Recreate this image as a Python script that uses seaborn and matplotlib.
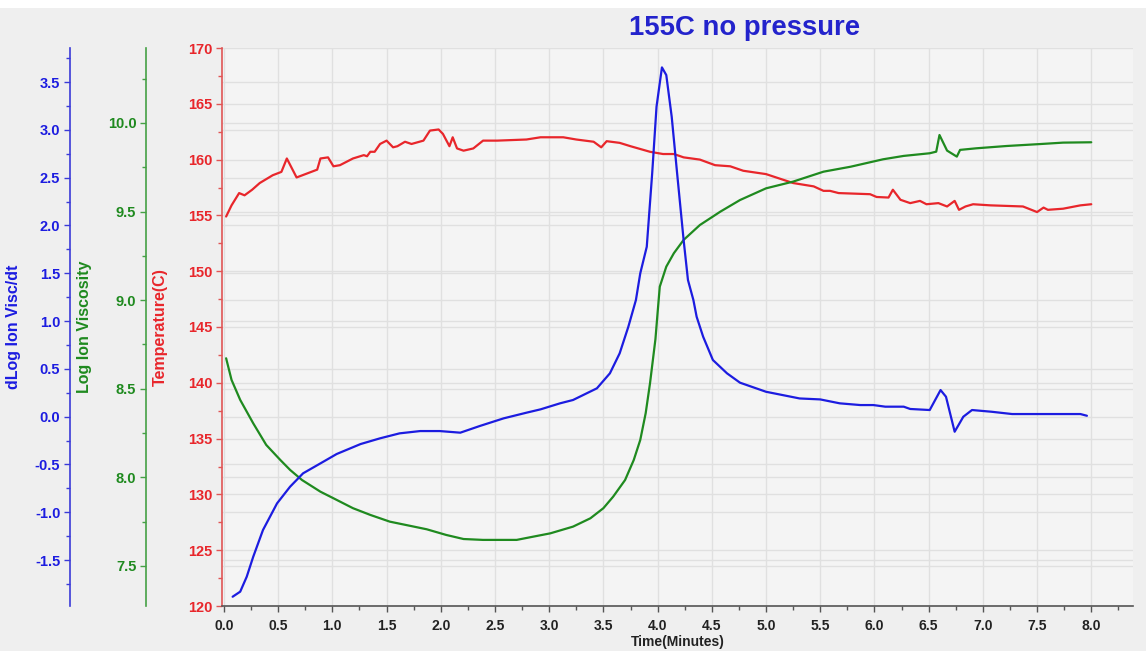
import numpy as np
import pandas as pd
import matplotlib
matplotlib.use("Agg")
import matplotlib.pyplot as plt
from matplotlib.ticker import MultipleLocator, FormatStrFormatter
from matplotlib.transforms import blended_transform_factory
from matplotlib.patches import Rectangle
import seaborn as sns

# temperature (red, right-most of the three left axes)
temp_time = [0.02, 0.07, 0.14, 0.19, 0.26, 0.33, 0.45, 0.53, 0.58, 0.67, 0.86, 0.89, 0.96, 1.01,
             1.07, 1.19, 1.29, 1.32, 1.35, 1.39, 1.44, 1.50, 1.56, 1.60, 1.67, 1.73, 1.84, 1.90,
             1.98, 2.02, 2.08, 2.11, 2.15, 2.21, 2.30, 2.39, 2.52, 2.79, 2.92, 3.13, 3.25, 3.41,
             3.48, 3.53, 3.65, 3.75, 3.93, 4.05, 4.15, 4.24, 4.39, 4.53, 4.67, 4.79, 5.00, 5.25,
             5.44, 5.53, 5.59, 5.67, 5.96, 6.02, 6.13, 6.17, 6.24, 6.33, 6.42, 6.48, 6.59, 6.67,
             6.74, 6.78, 6.84, 6.91, 7.07, 7.37, 7.50, 7.56, 7.60, 7.74, 7.90, 8.00]
temp_vals = [154.9, 155.9, 157.0, 156.8, 157.3, 157.9, 158.6, 158.9, 160.1, 158.4, 159.1, 160.1, 160.2, 159.4,
             159.5, 160.1, 160.4, 160.3, 160.7, 160.7, 161.4, 161.7, 161.1, 161.2, 161.6, 161.4, 161.7, 162.6,
             162.7, 162.3, 161.2, 162.0, 161.0, 160.8, 161.0, 161.7, 161.7, 161.8, 162.0, 162.0, 161.8, 161.6,
             161.1, 161.65, 161.5, 161.2, 160.7, 160.5, 160.5, 160.2, 160.0, 159.5, 159.4, 159.0, 158.7, 157.9,
             157.6, 157.2, 157.2, 157.0, 156.9, 156.65, 156.6, 157.3, 156.4, 156.1, 156.3, 156.0, 156.1, 155.8,
             156.3, 155.5, 155.8, 156.0, 155.9, 155.8, 155.3, 155.7, 155.5, 155.6, 155.9, 156.0]

# log ion viscosity (green)
visc_time = [0.02, 0.07, 0.15, 0.27, 0.39, 0.52, 0.61, 0.72, 0.89, 1.01, 1.19, 1.35, 1.53, 1.72,
             1.87, 2.05, 2.21, 2.39, 2.70, 2.85, 3.01, 3.22, 3.38, 3.50, 3.59, 3.70, 3.78, 3.84,
             3.89, 3.93, 3.98, 4.00, 4.02, 4.08, 4.15, 4.24, 4.39, 4.58, 4.76, 5.00, 5.25, 5.53,
             5.78, 6.08, 6.27, 6.51, 6.57, 6.60, 6.67, 6.76, 6.79, 6.94, 7.22, 7.53, 7.74, 8.00]
visc_vals = [8.672, 8.55, 8.437, 8.305, 8.183, 8.098, 8.042, 7.985, 7.919, 7.882, 7.826, 7.788, 7.750, 7.726,
             7.707, 7.675, 7.652, 7.647, 7.647, 7.665, 7.684, 7.722, 7.769, 7.826, 7.891, 7.985, 8.098, 8.211,
             8.362, 8.531, 8.78, 8.93, 9.076, 9.189, 9.265, 9.340, 9.424, 9.500, 9.565, 9.631, 9.669, 9.725,
             9.753, 9.795, 9.814, 9.829, 9.838, 9.932, 9.844, 9.810, 9.848, 9.857, 9.870, 9.881, 9.889, 9.891]

# dLog ion visc / dt (blue)
dvisc_time = [0.08, 0.15, 0.21, 0.27, 0.36, 0.49, 0.61, 0.73, 0.89, 1.04, 1.26, 1.44, 1.62, 1.81,
              1.99, 2.18, 2.36, 2.58, 2.79, 2.92, 3.10, 3.22, 3.44, 3.56, 3.65, 3.73, 3.80, 3.84,
              3.90, 3.95, 3.99, 4.04, 4.08, 4.13, 4.18, 4.24, 4.28, 4.33, 4.36, 4.42, 4.51, 4.64,
              4.76, 5.00, 5.31, 5.50, 5.68, 5.87, 5.99, 6.10, 6.27, 6.33, 6.51, 6.61, 6.66, 6.74,
              6.82, 6.90, 7.08, 7.27, 7.90, 7.96]
dvisc_vals = [-1.884, -1.831, -1.675, -1.466, -1.186, -0.907, -0.733, -0.593, -0.489, -0.391, -0.287, -0.227, -0.175, -0.151,
              -0.151, -0.168, -0.098, -0.018, 0.041, 0.076, 0.139, 0.174, 0.296, 0.453, 0.662, 0.940, 1.220, 1.499,
              1.777, 2.545, 3.242, 3.653, 3.573, 3.137, 2.545, 1.847, 1.429, 1.220, 1.045, 0.836, 0.592, 0.453,
              0.355, 0.260, 0.190, 0.180, 0.139, 0.121, 0.121, 0.104, 0.104, 0.080, 0.069, 0.278, 0.208, -0.158,
              -0.001, 0.069, 0.051, 0.027, 0.027, 0.009]

RED = "#e8262b"
GREEN = "#1f8a1f"
BLUE = "#1c1ce0"
GRID = "#e0e0e0"

sns.set_theme(style="ticks")
plt.rcParams["font.family"] = ["Liberation Sans", "DejaVu Sans"]
plt.rcParams["font.weight"] = "bold"

fig = plt.figure(figsize=(11.46, 6.51), dpi=100, facecolor="#efefef")
fig.add_artist(Rectangle((0, 1 - 8 / 651), 1, 8 / 651, transform=fig.transFigure,
                         facecolor="white", edgecolor="none"))
ax = fig.add_axes([222 / 1146, 45 / 651, 911 / 1146, 558 / 651])
ax.set_facecolor("#f4f4f4")
ax_g = ax.twinx()
ax_b = ax.twinx()

sns.lineplot(x=temp_time, y=temp_vals, ax=ax, color=RED, lw=1.6)
sns.lineplot(x=visc_time, y=visc_vals, ax=ax_g, color=GREEN, lw=1.6)
sns.lineplot(x=dvisc_time, y=dvisc_vals, ax=ax_b, color=BLUE, lw=1.6)

ax.set_xlim(-0.018, 8.385)
ax.set_ylim(120, 170)
ax_g.set_ylim(7.274, 10.423)
ax_b.set_ylim(-1.981, 3.856)

# grid: x and red on host; green and blue drawn on host too so they stay under the curves
ax.set_axisbelow(True)
ax.grid(True, color=GRID, lw=1)
for other, step in [(ax_g, 0.5), (ax_b, 0.5)]:
    lo, hi = other.get_ylim()
    tr = blended_transform_factory(ax.transAxes, other.transData)
    for v in np.arange(np.ceil(lo / step) * step, hi, step):
        ax.plot([0, 1], [v, v], transform=tr, color=GRID, lw=1, zorder=0.6)

for a in (ax, ax_g, ax_b):
    for s in ("top", "right"):
        a.spines[s].set_visible(False)
    if a is not ax:
        a.grid(False)

# x axis
ax.xaxis.set_major_locator(MultipleLocator(0.5))
ax.xaxis.set_minor_locator(MultipleLocator(0.25))
ax.xaxis.set_major_formatter(FormatStrFormatter("%.1f"))
ax.tick_params(axis="x", which="major", direction="out", length=4, width=1, color="#555555",
               pad=5, labelsize=10, labelcolor="#222222")
ax.tick_params(axis="x", which="minor", direction="out", length=3, width=1, color="#555555")
for lab in ax.get_xticklabels():
    lab.set_family(["Liberation Sans Narrow", "Liberation Sans"])
    lab.set_fontweight("bold")
ax.spines["bottom"].set_color("#555555")
ax.spines["bottom"].set_linewidth(1.2)
ax.set_xlabel("Time(Minutes)", fontsize=10, fontweight="bold", color="#222222",
              family=["Liberation Sans Narrow", "Liberation Sans"])
ax.xaxis.set_label_coords(0.5, -0.052)
ax.xaxis.label.set_va("top")

# y axes
specs = [
    (ax, RED, "#e05555", 0.0, MultipleLocator(5), MultipleLocator(2.5), "%d", "Temperature(C)", -0.0593),
    (ax_g, GREEN, "#45a045", -76 / 911, MultipleLocator(0.5), MultipleLocator(0.25), "%.1f", "Log Ion Viscosity", -0.1427),
    (ax_b, BLUE, "#3a3ad8", -152 / 911, MultipleLocator(0.5), MultipleLocator(0.25), "%.1f", "dLog Ion Visc/dt", -0.2206),
]
for a, col, spcol, pos, major, minor, fmt, label, lx in specs:
    a.yaxis.set_ticks_position("left")
    a.yaxis.set_label_position("left")
    a.spines["left"].set_visible(True)
    a.spines["left"].set_position(("axes", pos))
    a.spines["left"].set_color(spcol)
    a.spines["left"].set_linewidth(1.2)
    if a is not ax:
        a.spines["bottom"].set_visible(False)
    a.yaxis.set_major_locator(major)
    a.yaxis.set_minor_locator(minor)
    a.yaxis.set_major_formatter(FormatStrFormatter(fmt))
    a.tick_params(axis="y", which="major", direction="out", length=4, width=1, color=spcol,
                  pad=3, labelsize=10.5, labelcolor=col)
    a.tick_params(axis="y", which="minor", direction="out", length=3, width=1, color=spcol)
    for lab in a.get_yticklabels():
        lab.set_fontweight("bold")
    a.set_ylabel(label, fontsize=11.5, fontweight="bold", color=col)
    a.yaxis.set_label_coords(lx, 0.5)

fig.text(745 / 1146, 1 - 28 / 651, "155C no pressure", ha="center", va="center",
         fontsize=19.8, fontweight="bold", color="#2323cc")

fig.savefig("out.png", dpi=100, facecolor=fig.get_facecolor())
